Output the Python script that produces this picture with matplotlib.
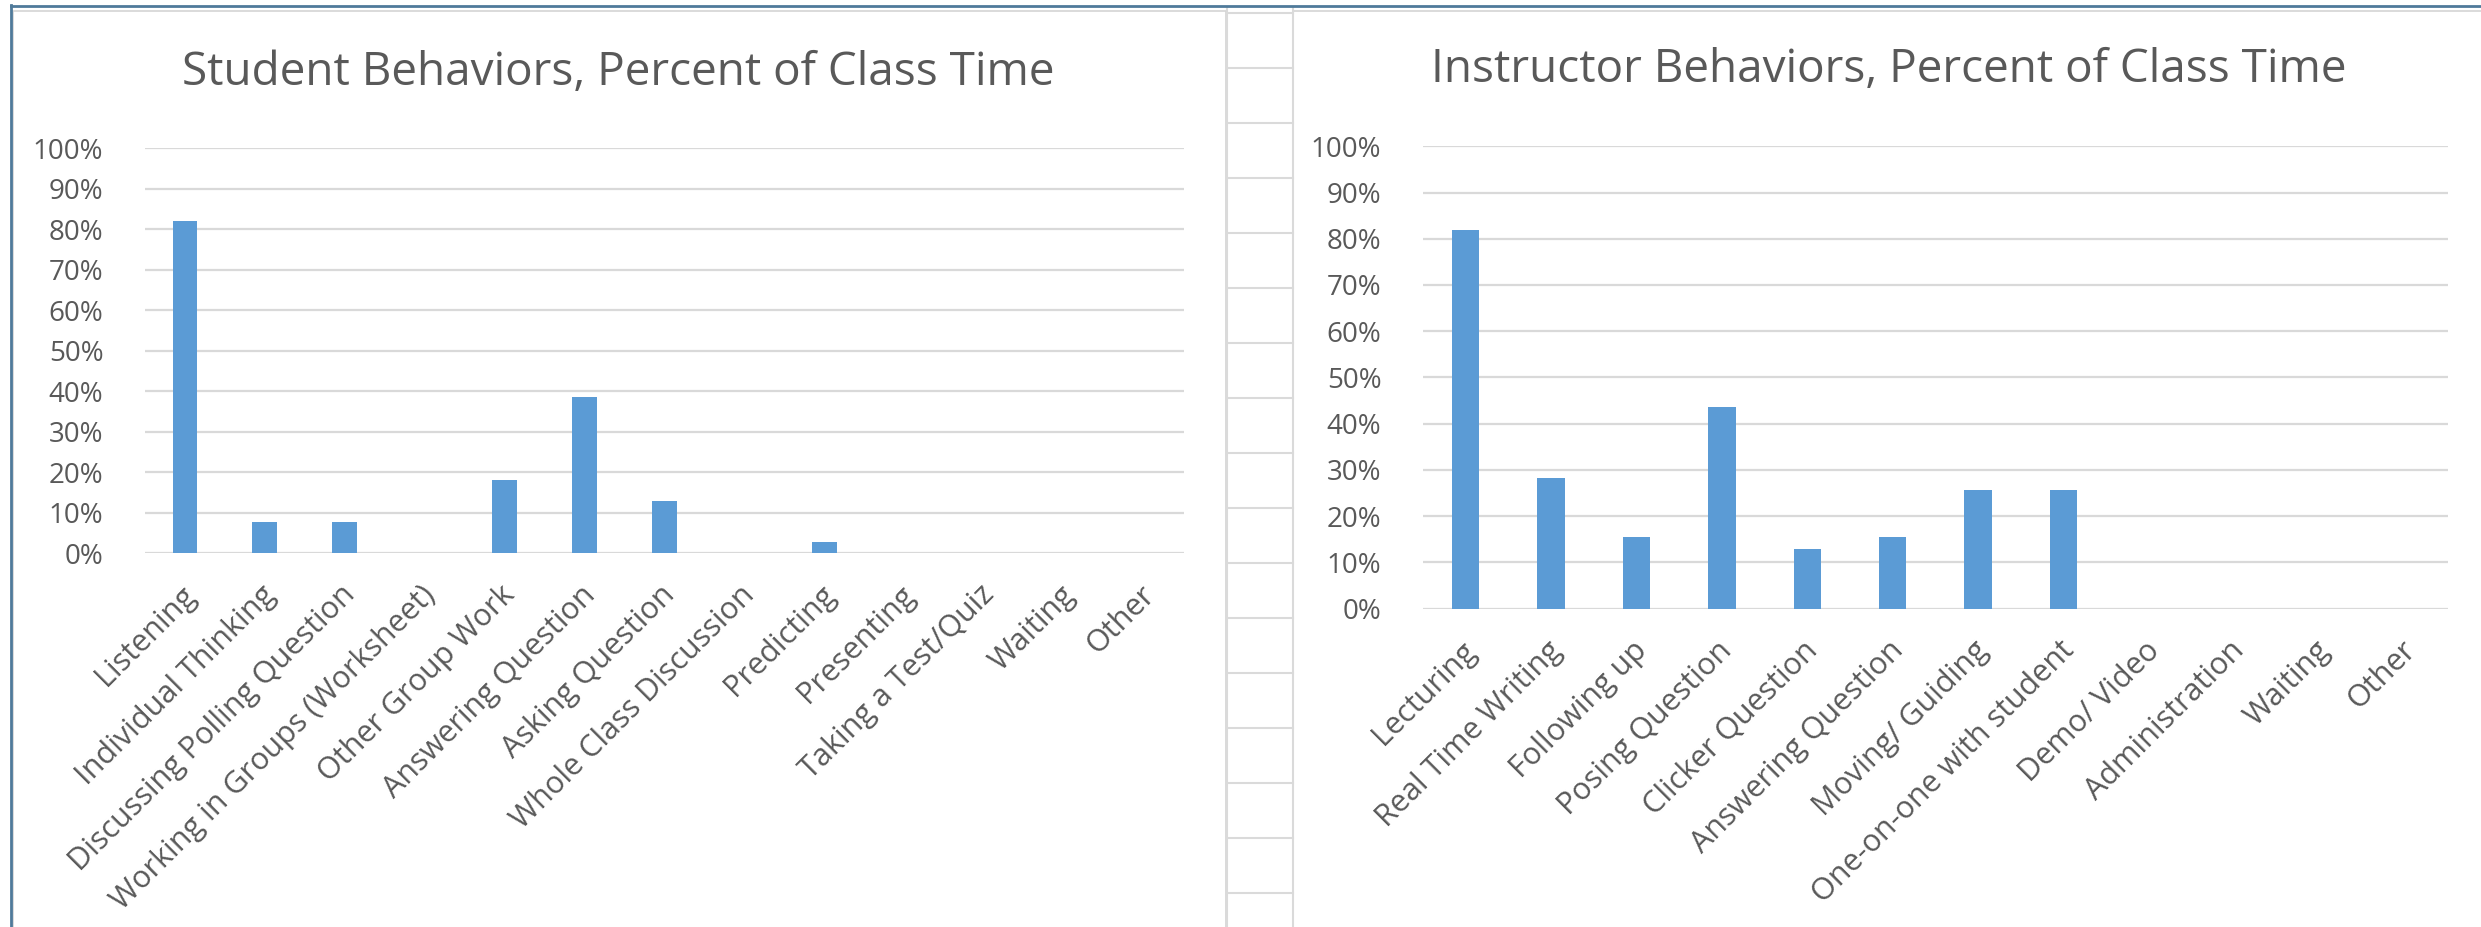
import numpy as np
import matplotlib
matplotlib.use("Agg")
import matplotlib.pyplot as plt
from matplotlib.patches import Rectangle
from matplotlib.transforms import ScaledTranslation
from matplotlib.ticker import PercentFormatter

# Data (fractions of class time)
student_labels = ["Listening", "Individual Thinking", "Discussing Polling Question",
                  "Working in Groups (Worksheet)", "Other Group Work", "Answering Question",
                  "Asking Question", "Whole Class Discussion", "Predicting", "Presenting",
                  "Taking a Test/Quiz", "Waiting", "Other"]
student_values = [0.82, 0.077, 0.077, 0.0, 0.18, 0.385, 0.128, 0.0, 0.026, 0.0, 0.0, 0.0, 0.0]

instructor_labels = ["Lecturing", "Real Time Writing", "Following up", "Posing Question",
                     "Clicker Question", "Answering Question", "Moving/ Guiding",
                     "One-on-one with student", "Demo/ Video", "Administration", "Waiting", "Other"]
instructor_values = [0.82, 0.282, 0.154, 0.436, 0.128, 0.154, 0.256, 0.256, 0.0, 0.0, 0.0, 0.0]

yticks = np.arange(0, 1.01, 0.1)

plt.rcParams['font.family'] = ['Open Sans', 'DejaVu Sans']
W, H = 2481, 927
fig = plt.figure(figsize=(W / 100, H / 100), dpi=100)

# spreadsheet background
bg = fig.add_axes([0, 0, 1, 1], zorder=0)
bg.set_xlim(0, W)
bg.set_ylim(H, 0)
bg.axis('off')
grid_c = '#dadada'
for y in np.arange(13, H, 55):
    bg.plot([1227, 1293], [y, y], color=grid_c, lw=1.5)
bg.plot([1227, 1227], [8, H], color=grid_c, lw=1.5)
bg.plot([1293, 1293], [8, H], color=grid_c, lw=1.5)
bg.add_patch(Rectangle((13, 11), 1213, H, facecolor='white', edgecolor='#d4d4d4', lw=1.2))
bg.add_patch(Rectangle((1293, 11), 1300, H, facecolor='white', edgecolor='#d4d4d4', lw=1.2))
bg.plot([11, W], [5.5, 5.5], color='#4f7a9a', lw=2)
bg.plot([11, 11], [5, H], color='#4f7a9a', lw=2)


def draw(rect, labels, values, title, title_xy, width):
    ax = fig.add_axes(rect, zorder=2)
    ax.set_facecolor('none')
    x = np.arange(len(labels))
    ax.bar(x, values, width=width, color='#5b9bd5', zorder=3)
    ax.set_xlim(-0.5, len(labels) - 0.5)
    ax.set_ylim(0, 1)
    ax.set_yticks(yticks)
    ax.yaxis.set_major_formatter(PercentFormatter(1.0, decimals=0))
    ax.grid(axis='y', color='#d9d9d9', lw=1.6)
    ax.set_axisbelow(True)
    for s in ax.spines.values():
        s.set_visible(False)
    ax.tick_params(axis='y', length=0, pad=30, labelsize=20, labelcolor='#595959')
    ax.tick_params(axis='x', length=0, pad=27, labelsize=22, labelcolor='#595959')
    ax.set_xticks(x)
    ax.set_xticklabels(labels, rotation=45, ha='right', va='center', rotation_mode='anchor')
    off = ScaledTranslation(0.06, 0, fig.dpi_scale_trans)
    for lab in ax.get_xticklabels():
        lab.set_transform(lab.get_transform() + off)
    fig.text(title_xy[0] / W, 1 - title_xy[1] / H, title, ha='center', va='center',
             fontsize=33, color='#595959')
    return ax


draw([145 / W, (H - 553) / H, 1039 / W, 404.5 / H], student_labels, student_values,
     "Student Behaviors, Percent of Class Time", (618, 73), 0.31)
draw([1423 / W, (H - 608.6) / H, 1024.6 / W, 462.3 / H], instructor_labels, instructor_values,
     "Instructor Behaviors, Percent of Class Time", (1889, 70), 0.32)

fig.savefig("out.png", dpi=100)
